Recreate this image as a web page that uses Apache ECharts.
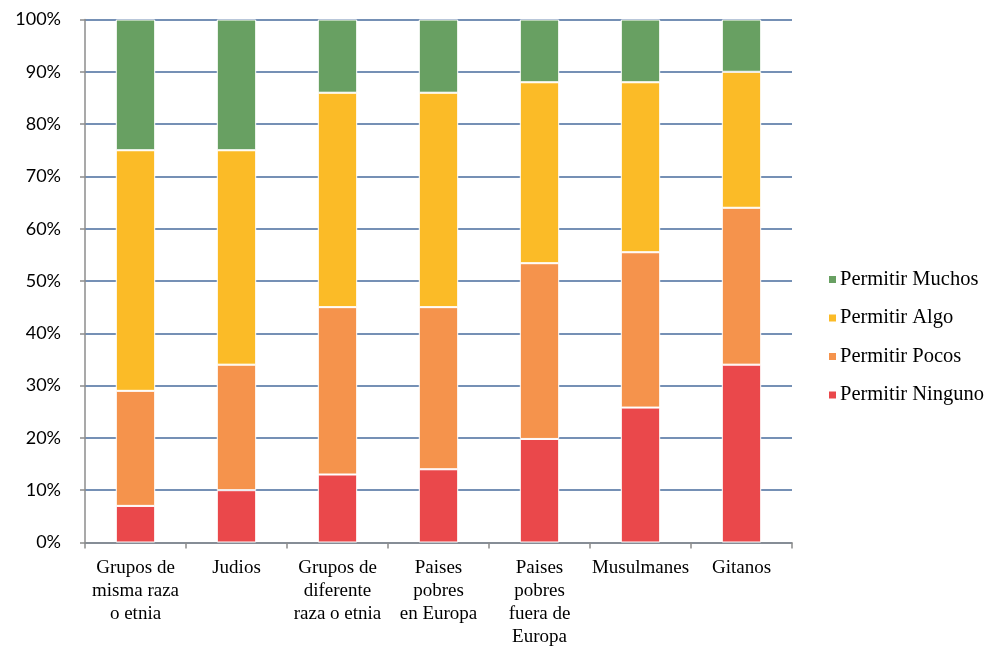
<!DOCTYPE html>
<html>
<head>
<meta charset="utf-8">
<script src="https://cdn.jsdelivr.net/npm/echarts@6/dist/echarts.min.js"></script>
<style>
html,body{margin:0;padding:0;background:#fff;}
#main{width:986px;height:652px;}
</style>
</head>
<body>
<div id="main"></div>
<script>
var categories = ['Grupos de\nmisma raza\no etnia', 'Judios', 'Grupos de\ndiferente\nraza o etnia', 'Paises\npobres\nen Europa', 'Paises\npobres\nfuera de\nEuropa', 'Musulmanes', 'Gitanos'];
var ninguno = [7, 10, 13, 14, 19.8, 25.8, 34];
var pocos = [22, 24, 32, 31, 33.6, 29.7, 30];
var algo = [46, 41, 41, 41, 34.6, 32.5, 26];
var muchos = [25, 25, 14, 14, 12, 12, 10];
var yTicks = [0, 10, 20, 30, 40, 50, 60, 70, 80, 90, 100];

var serif = 'Liberation Serif';
var myChart = echarts.init(document.getElementById('main'));

function barSeries(name, data, color) {
	return {
		name : name,
		type : 'bar',
		stack : 'total',
		barWidth : '39%',
		data : data,
		itemStyle : {
			color : color,
			borderColor : '#ffffff',
			borderWidth : 1
		}
	};
}

var option = {
	animation : false,
	backgroundColor : '#ffffff',
	textStyle : { fontFamily : serif },
	grid : {
		left : 85,
		right : 194,
		top : 19.5,
		bottom : 109.5
	},
	legend : {
		orient : 'vertical',
		left : 822,
		top : 264,
		itemWidth : 9,
		itemHeight : 9,
		itemGap : 17.5,
		icon : 'rect',
		data : [ 'Permitir Muchos', 'Permitir Algo', 'Permitir Pocos', 'Permitir Ninguno' ],
		textStyle : {
			fontFamily : serif,
			fontSize : 20.5,
			lineHeight : 20,
			color : '#000000',
			padding : [0, 0, 0, -2]
		}
	},
	xAxis : {
		type : 'category',
		data : categories,
		axisLine : { lineStyle : { color : '#8c8c8c', width : 1.5 } },
		axisTick : { show : true, length : 6, lineStyle : { color : '#8c8c8c', width : 1.5 } },
		axisLabel : {
			interval : 0,
			margin : 14,
			fontFamily : serif,
			fontSize : 19,
			lineHeight : 23,
			color : '#000000',
			verticalAlign : 'top'
		}
	},
	yAxis : {
		type : 'value',
		min : 0,
		max : 100,
		interval : 10,
		axisLine : { show : true, lineStyle : { color : '#8c8c8c', width : 1.5 } },
		axisTick : { show : true, length : 5, lineStyle : { color : '#8c8c8c', width : 1.5 } },
		splitLine : { lineStyle : { color : '#7590b5', width : 2 } },
		axisLabel : {
			margin : 24,
			fontFamily : 'Lato',
			fontSize : 18,
			color : '#000000',
			formatter : function(v) {
				return yTicks.indexOf(v) > -1 ? v + '%' : '';
			}
		}
	},
	series : [
		barSeries('Permitir Ninguno', ninguno, '#ea484b'),
		barSeries('Permitir Pocos', pocos, '#f5934c'),
		barSeries('Permitir Algo', algo, '#fbbb27'),
		barSeries('Permitir Muchos', muchos, '#68a062')
	]
};
myChart.setOption(option);
</script>
</body>
</html>
